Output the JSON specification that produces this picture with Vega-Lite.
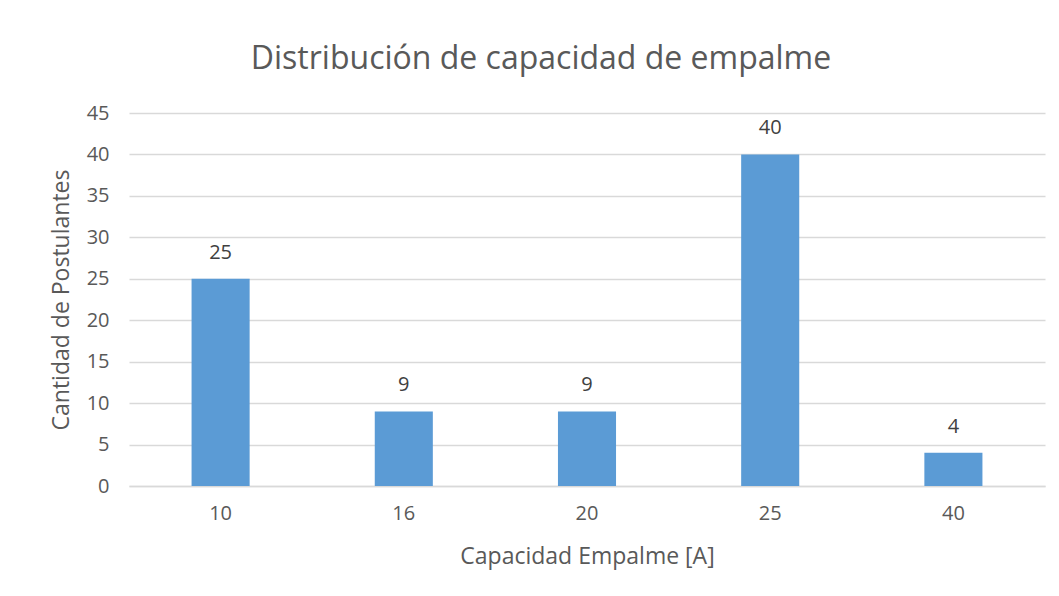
{
  "$schema": "https://vega.github.io/schema/vega-lite/v6.json",
  "width": 916,
  "height": 373,
  "autosize": {"type": "none"},
  "padding": {"left": 129, "top": 113, "right": 14, "bottom": 110},
  "background": "white",
  "title": {
    "text": "Distribución de capacidad de empalme",
    "font": "Open Sans",
    "fontSize": 32,
    "fontWeight": "normal",
    "color": "#595959",
    "anchor": "middle",
    "dx": -46,
    "offset": 27
  },
  "data": {
    "values": [
      {"capacidad": "10", "cantidad": 25},
      {"capacidad": "16", "cantidad": 9},
      {"capacidad": "20", "cantidad": 9},
      {"capacidad": "25", "cantidad": 40},
      {"capacidad": "40", "cantidad": 4}
    ]
  },
  "encoding": {
    "x": {
      "field": "capacidad",
      "type": "ordinal",
      "sort": null,
      "scale": {"paddingInner": 0.683, "paddingOuter": 0.3415},
      "axis": {
        "title": "Capacidad Empalme [A]",
        "labelAngle": 0,
        "labelPadding": 17,
        "titlePadding": 22,
        "ticks": false,
        "domainColor": "#d9d9d9",
        "domainWidth": 1.5
      }
    },
    "y": {
      "field": "cantidad",
      "type": "quantitative",
      "scale": {"domain": [0, 45]},
      "axis": {
        "title": "Cantidad de Postulantes",
        "values": [0, 5, 10, 15, 20, 25, 30, 35, 40, 45],
        "ticks": false,
        "domain": false,
        "labelPadding": 20,
        "titlePadding": 13,
        "gridColor": "#d9d9d9",
        "gridWidth": 1.5
      }
    }
  },
  "layer": [
    {"mark": {"type": "bar", "color": "#5b9bd5"}},
    {
      "mark": {"type": "text", "baseline": "alphabetic", "dy": -20, "font": "Open Sans", "fontSize": 20, "color": "#404040"},
      "encoding": {"text": {"field": "cantidad", "type": "quantitative"}}
    }
  ],
  "config": {
    "view": {"stroke": null},
    "axis": {
      "labelFont": "Open Sans",
      "labelFontSize": 20,
      "labelColor": "#595959",
      "titleFont": "Open Sans",
      "titleFontSize": 23,
      "titleFontWeight": "normal",
      "titleColor": "#595959"
    }
  }
}
